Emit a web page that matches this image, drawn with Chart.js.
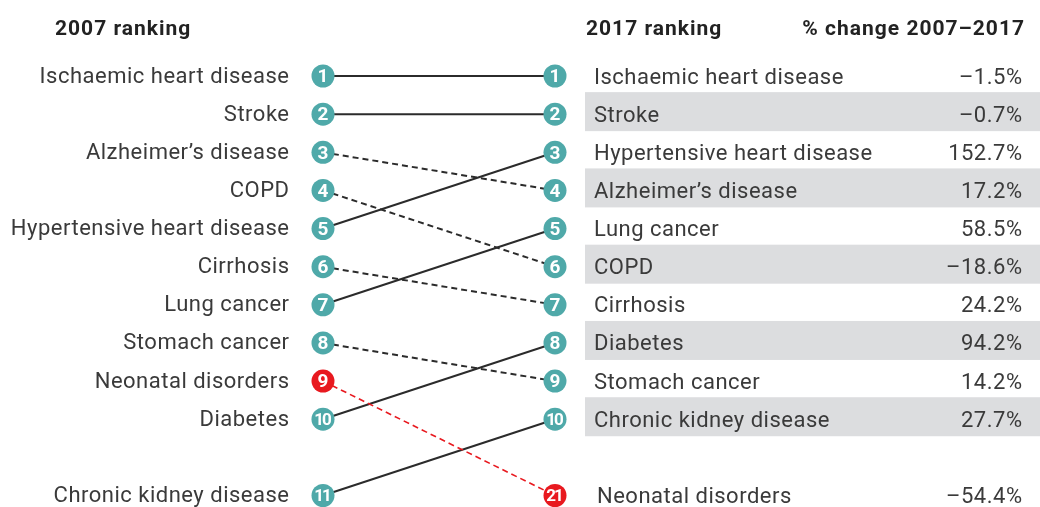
<!DOCTYPE html>
<html>
<head>
<meta charset="utf-8">
<script src="https://cdn.jsdelivr.net/npm/chart.js@4.4.0/dist/chart.umd.min.js"></script>
<style>
html,body{margin:0;padding:0;background:#fff;}
#wrap{width:1040px;height:507px;position:relative;}
</style>
</head>
<body>
<div id="wrap"><canvas id="c"></canvas></div>
<script>
// ---- data ----
const causes = ["Ischaemic heart disease","Stroke","Alzheimer\u2019s disease","COPD","Hypertensive heart disease","Cirrhosis","Lung cancer","Stomach cancer","Neonatal disorders","Diabetes","Chronic kidney disease"];
const rank2007 = [1,2,3,4,5,6,7,8,9,10,11];
const rank2017 = [1,2,4,6,3,7,5,9,21,8,10];
const pctChange = ["\u20131.5%","\u20130.7%","17.2%","\u201318.6%","152.7%","24.2%","58.5%","14.2%","\u201354.4%","94.2%","27.7%"];
const highlight = [false,false,false,false,false,false,false,false,true,false,false];
const headers = ["2007 ranking","2017 ranking","% change 2007\u20132017"];

// ---- styles ----
const TEAL = "#4fa9a9", RED = "#e8191f", INK = "#2b2b2b", TXT = "#3a3a3a", BAND = "#dcdddf";
const FONT = "Roboto";
const slot = r => (r <= 10 ? r : 12);

const datasets = [];
const pts = [], ptCol = [], ptLbl = [];
causes.forEach((c,i)=>{
  pts.push({x:0,y:slot(rank2007[i])}); ptCol.push(highlight[i]?RED:TEAL); ptLbl.push(String(rank2007[i]));
  pts.push({x:1,y:slot(rank2017[i])}); ptCol.push(highlight[i]?RED:TEAL); ptLbl.push(String(rank2017[i]));
});
datasets.push({type:'scatter',data:pts,pointRadius:11.5,pointHoverRadius:11.5,pointBackgroundColor:ptCol,pointBorderWidth:0,order:0,showLine:false,clip:false});
causes.forEach((c,i)=>{
  const down = rank2017[i] > rank2007[i];
  datasets.push({
    type:'line',
    data:[{x:0,y:slot(rank2007[i])},{x:1,y:slot(rank2017[i])}],
    borderColor: highlight[i]?RED:INK,
    borderWidth: highlight[i]?1.6:2,
    borderDash: down?[6,4]:[],
    pointRadius:0, fill:false, order:1, clip:false
  });
});

const labelsPlugin = {
  id:'labels',
  beforeDatasetsDraw(chart){
    const ctx = chart.ctx, ys = chart.scales.y;
    ctx.save();
    ctx.fillStyle = BAND;
    for (let r=2; r<=10; r+=2){
      const y = ys.getPixelForValue(r);
      ctx.fillRect(585, y-22, 455, 39);
    }
    ctx.restore();
  },
  afterDatasetsDraw(chart){
    const ctx = chart.ctx, ys = chart.scales.y;
    ctx.save();
    const meta = chart.getDatasetMeta(0);
    ctx.fillStyle = "#fff";
    ctx.textAlign = "center"; ctx.textBaseline = "middle";
    meta.data.forEach((p,k)=>{
      const t = ptLbl[k];
      ctx.font = "bold " + (t.length>1?17:19) + "px " + FONT;
      ctx.letterSpacing = t.length>1 ? "-2px" : "0px";
      ctx.fillText(t, p.x + (t.length>1?-1:0), p.y+1.5);
    });
    // headers
    ctx.fillStyle = "#222";
    ctx.font = "bold 21px " + FONT;
    ctx.letterSpacing = "1px";
    ctx.textBaseline = "middle";
    ctx.textAlign = "left"; ctx.fillText(headers[0], 55, 30);
    ctx.fillText(headers[1], 586, 30);
    ctx.textAlign = "right"; ctx.fillText(headers[2], 1025, 30);
    // left labels
    ctx.fillStyle = TXT;
    ctx.font = "22px " + FONT;
    ctx.letterSpacing = "0.5px";
    causes.forEach((c,i)=>{
      const y = ys.getPixelForValue(slot(rank2007[i]));
      ctx.textAlign = "right"; ctx.fillText(c, 289.5, y+1);
    });
    causes.forEach((c,i)=>{
      const y = ys.getPixelForValue(slot(rank2017[i]));
      ctx.textAlign = "left"; ctx.fillText(c, rank2017[i]>10?597:594, y+2);
      ctx.textAlign = "right"; ctx.fillText(pctChange[i], 1022.5, y+2);
    });
    ctx.restore();
  }
};

new Chart(document.getElementById('c'), {
  data:{datasets},
  options:{
    responsive:true, maintainAspectRatio:false, animation:false,
    devicePixelRatio:1,
    layout:{padding:{left:323,right:485,top:76,bottom:1}},
    scales:{
      x:{type:'linear',min:0,max:1,display:false},
      y:{type:'linear',min:1,max:12,reverse:true,display:false}
    },
    plugins:{legend:{display:false},tooltip:{enabled:false}},
    events:[]
  },
  plugins:[labelsPlugin]
});
</script>
</body>
</html>
